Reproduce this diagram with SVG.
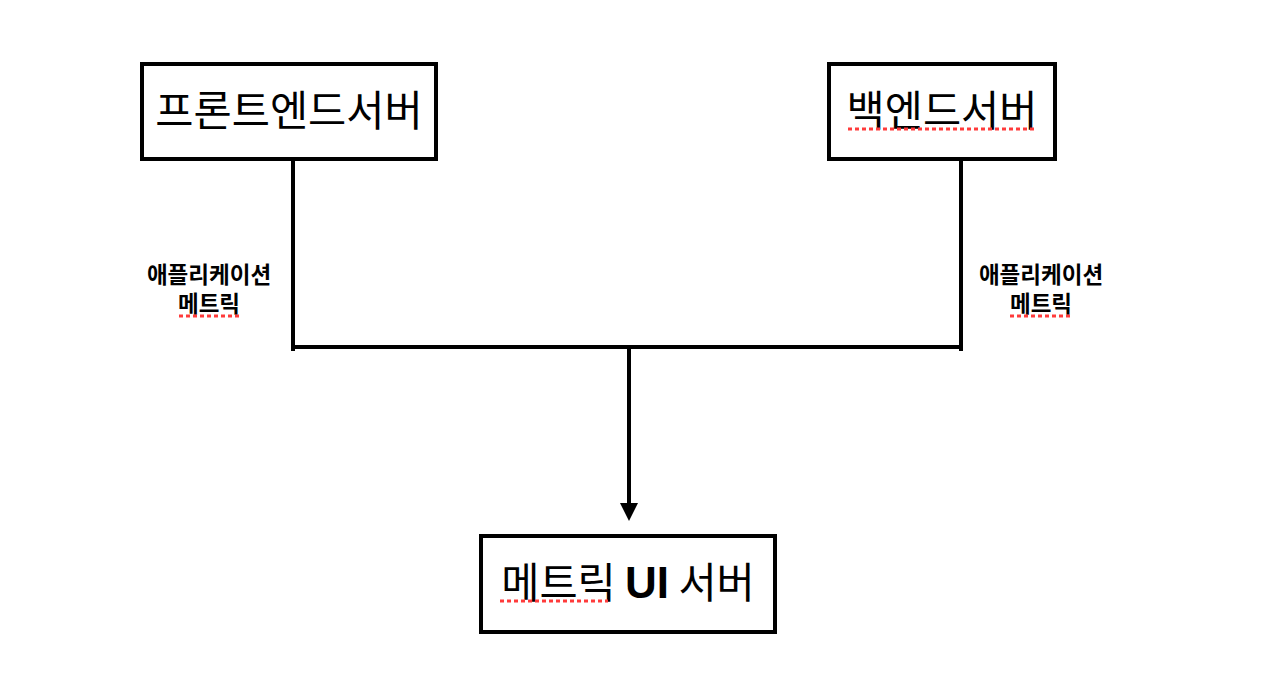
<svg xmlns="http://www.w3.org/2000/svg" width="1264" height="688" viewBox="0 0 1264 688">
<style>
.box{fill:#fff;stroke:#000;stroke-width:4}
.t{font-family:"Noto Sans CJK KR","Liberation Sans",sans-serif;font-size:41.5px;fill:#000;text-anchor:middle}
.l{font-family:"Noto Sans CJK KR","Liberation Sans",sans-serif;font-size:22.5px;font-weight:bold;fill:#000;text-anchor:middle}
.c{stroke:#000;stroke-width:4;fill:none}
.sp{stroke:#ff3b3b;stroke-width:3;stroke-dasharray:4 3;fill:none}
</style>
<rect width="1264" height="688" fill="#fff"/>
<g id="connectors">
<path class="c" d="M293,159 V351"/>
<path class="c" d="M961,159 V351"/>
<path class="c" d="M291,347 H963"/>
<path class="c" d="M629,347 V504"/>
<polygon points="620,503 638,503 629,521" fill="#000"/>
</g>
<g id="frontend">
<rect class="box" x="142" y="64" width="294" height="95"/>
<text class="t" x="289" y="126">프론트엔드서버</text>
</g>
<g id="backend">
<rect class="box" x="829" y="64" width="226" height="95"/>
<text class="t" x="942" y="126">백엔드서버</text>
<path class="sp" d="M848,129 H1036"/>
</g>
<g id="metric-ui">
<rect class="box" x="481" y="536" width="294" height="96"/>
<text class="t" x="628" y="598" font-size="42.5">메트릭 <tspan font-family="Liberation Sans" font-weight="bold" font-size="44">UI</tspan> 서버</text>
<path class="sp" d="M500,601 H608"/>
</g>
<g id="label-left">
<text class="l" x="209" y="283">애플리케이션</text>
<text class="l" x="209" y="312">메트릭</text>
<path class="sp" d="M179,316 H239"/>
</g>
<g id="label-right">
<text class="l" x="1041" y="283">애플리케이션</text>
<text class="l" x="1041" y="312">메트릭</text>
<path class="sp" d="M1010,316 H1071"/>
</g>
</svg>
